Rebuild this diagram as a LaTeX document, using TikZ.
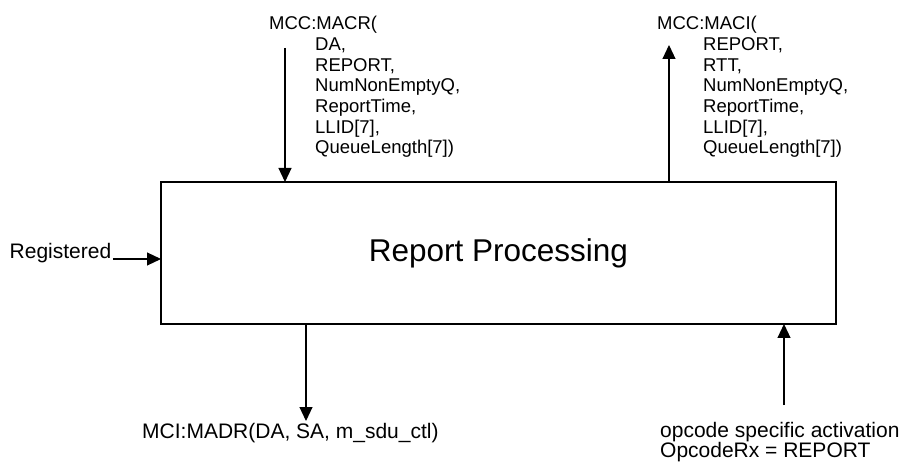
\documentclass[tikz,border=0pt]{standalone}
\usepackage{fontspec}
\setmainfont{Liberation Sans}
\usetikzlibrary{arrows.meta}
\begin{document}
\begin{tikzpicture}[x=1pt,y=-1pt,
  lbl/.style={inner sep=0pt, font=\fontsize{21}{21}\selectfont, align=left},
  toplbl/.style={inner sep=0pt, font=\fontsize{18.5}{20.7}\selectfont, align=left},
  conn/.style={line width=1.1pt, -{Triangle[width=13pt,length=14pt]}},
  procbox/.style={draw, line width=2pt, minimum width=675pt, minimum height=142pt, inner sep=0pt, outer sep=0pt}]
\useasboundingbox (0,0) rectangle (905,462);
\node[procbox, font=\fontsize{31.5}{34}\selectfont] (box) at (498.5,253) {Report Processing};
% top left
\node[toplbl, anchor=north west] (macr) at (269,16) {MCC:MACR(\\\hspace*{46pt}DA,\\\hspace*{46pt}REPORT,\\\hspace*{46pt}NumNonEmptyQ,\\\hspace*{46pt}ReportTime,\\\hspace*{46pt}LLID[7],\\\hspace*{46pt}QueueLength[7])};
\coordinate (c1) at (285,48);
\draw[conn] (c1) -- (c1 |- box.north);
% top right
\node[toplbl, anchor=north west] (maci) at (657,16) {MCC:MACI(\\\hspace*{46pt}REPORT,\\\hspace*{46pt}RTT,\\\hspace*{46pt}NumNonEmptyQ,\\\hspace*{46pt}ReportTime,\\\hspace*{46pt}LLID[7],\\\hspace*{46pt}QueueLength[7])};
\coordinate (c2) at (669,45);
\draw[conn] (c2 |- box.north) -- (c2);
% left
\node[lbl, anchor=base west] (reg) at (9.5,259) {Registered};
\draw[conn] (reg.base east) ++(1.5,0) coordinate (c3) -- (c3 -| box.west);
% bottom left
\node[lbl, anchor=base west] (madr) at (142,438) {MCI:MADR(DA, SA, m\_sdu\_ctl)};
\coordinate (c4) at (306,421);
\draw[conn] (c4 |- box.south) -- (c4);
% bottom right
\node[lbl, anchor=north west, font=\fontsize{21}{17.5}\selectfont] (opc) at (660,422) {opcode specific activation\\OpcodeRx = REPORT};
\coordinate (c5) at (784,405);
\draw[conn] (c5) -- (c5 |- box.south);
\end{tikzpicture}
\end{document}
